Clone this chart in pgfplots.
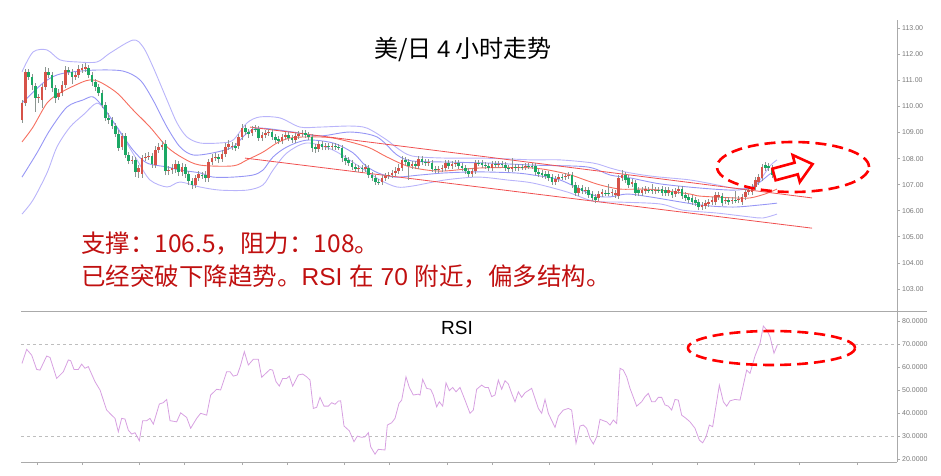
\documentclass[border=0pt]{standalone}
\usepackage{pgfplots}
\pgfplotsset{compat=1.18}
\usepackage{pgfplotstable}
\usepackage{fontspec}
\setmainfont{Liberation Sans}
\newfontfamily\cjk{Noto Sans CJK SC}

\definecolor{axgray}{RGB}{170,170,170}
\definecolor{lblgray}{RGB}{120,120,120}
\definecolor{wickc}{RGB}{140,150,145}
\definecolor{upc}{RGB}{214,82,72}
\definecolor{dnc}{RGB}{26,168,100}
\definecolor{mac}{RGB}{246,110,95}
\definecolor{bbIn}{RGB}{150,150,245}
\definecolor{bbOut}{RGB}{185,180,250}
\definecolor{trend}{RGB}{240,80,80}
\definecolor{rsiC}{RGB}{215,160,225}
\definecolor{ann}{RGB}{192,16,16}
\definecolor{dashg}{RGB}{190,190,190}

\pgfplotstableread{
i o h l c
0 109.48 110.25 109.37 110.13
1 110.13 111.44 110.02 111.33
2 111.33 111.44 111.02 111.13
3 111.13 111.25 110.63 110.83
4 110.79 110.90 109.79 110.33
5 110.33 110.48 110.13 110.37
6 110.25 110.86 109.94 110.75
7 110.75 111.52 110.63 111.33
8 111.33 111.48 111.09 111.21
9 111.21 111.33 110.56 110.71
10 110.71 110.83 110.13 110.33
11 110.37 110.67 110.25 110.52
12 110.52 110.98 110.40 110.83
13 110.83 111.56 110.71 111.40
14 111.40 111.52 111.21 111.33
15 111.33 111.44 110.86 111.13
16 111.13 111.33 111.02 111.21
17 111.21 111.59 111.09 111.44
18 111.40 111.63 111.29 111.48
19 111.44 111.67 111.33 111.52
20 111.48 111.59 111.09 111.21
21 111.21 111.33 110.79 110.94
22 110.94 111.06 110.60 110.75
23 110.75 110.86 110.40 110.52
24 110.52 110.63 109.94 110.06
25 110.06 110.17 109.44 109.56
26 109.56 109.75 109.33 109.48
27 109.48 109.60 109.14 109.25
28 109.25 109.37 108.83 108.94
29 108.94 109.10 108.29 108.41
30 108.45 108.98 108.33 108.87
31 108.87 108.98 108.02 108.14
32 108.14 108.25 107.79 107.91
33 107.91 108.10 107.79 107.95
34 107.95 108.06 107.29 107.49
35 107.49 107.75 107.26 107.64
36 107.41 108.14 107.26 108.02
37 108.02 108.22 107.91 108.06
38 108.06 108.25 107.95 108.10
39 108.10 108.22 107.64 107.79
40 107.75 108.48 107.64 108.33
41 108.33 108.60 108.22 108.45
42 108.45 108.68 108.33 108.52
43 108.56 108.71 107.37 107.52
44 107.52 107.72 107.37 107.56
45 107.56 107.79 107.41 107.64
46 107.60 107.95 107.45 107.79
47 107.79 107.91 107.33 107.49
48 107.49 107.83 107.33 107.68
49 107.68 107.79 107.26 107.41
50 107.41 107.52 106.99 107.14
51 107.14 107.26 106.83 106.99
52 106.99 107.37 106.87 107.26
53 107.26 107.52 107.14 107.41
54 107.37 107.49 107.22 107.33
55 107.37 107.52 107.10 107.26
56 107.26 107.99 107.10 107.87
57 107.87 108.18 107.75 108.02
58 108.02 108.22 107.91 108.06
59 108.06 108.18 107.83 107.99
60 107.99 108.33 107.87 108.18
61 108.18 108.60 108.06 108.45
62 108.45 108.71 108.33 108.56
63 108.45 108.64 108.33 108.48
64 108.48 108.60 108.29 108.41
65 108.48 108.94 108.37 108.83
66 108.83 109.33 108.71 109.17
67 109.17 109.29 108.91 109.02
68 109.02 109.14 108.79 108.94
69 108.98 109.25 108.87 109.14
70 109.14 109.29 109.02 109.13
71 109.14 109.25 108.68 108.79
72 108.79 109.02 108.68 108.91
73 108.91 109.10 108.79 108.98
74 108.98 109.14 108.87 109.02
75 109.02 109.14 108.71 108.83
76 108.83 108.94 108.60 108.71
77 108.75 108.87 108.56 108.68
78 108.68 108.94 108.56 108.83
79 108.83 109.02 108.71 108.91
80 108.91 109.02 108.68 108.79
81 108.79 108.91 108.60 108.71
82 108.71 108.98 108.60 108.87
83 108.87 109.06 108.75 108.94
84 108.94 109.10 108.83 108.98
85 108.98 109.10 108.79 108.91
86 108.91 109.02 108.71 108.83
87 108.83 108.94 108.25 108.41
88 108.45 108.56 108.22 108.37
89 108.37 108.68 108.25 108.56
90 108.56 108.68 108.33 108.45
91 108.45 108.60 108.33 108.48
92 108.48 108.60 108.33 108.45
93 108.45 108.60 108.33 108.48
94 108.48 108.60 108.33 108.45
95 108.45 108.56 108.33 108.44
96 108.41 108.52 107.87 108.02
97 108.02 108.14 107.75 107.91
98 107.95 108.06 107.72 107.83
99 107.83 107.95 107.56 107.68
100 107.68 107.79 107.49 107.60
101 107.60 107.75 107.49 107.64
102 107.64 107.75 107.49 107.60
103 107.60 107.79 107.49 107.68
104 107.64 107.75 107.26 107.37
105 107.37 107.49 107.14 107.26
106 107.26 107.37 106.99 107.10
107 107.10 107.22 106.99 107.09
108 107.10 107.37 106.99 107.26
109 107.26 107.45 107.14 107.33
110 107.33 107.49 107.22 107.37
111 107.37 107.56 107.26 107.45
112 107.45 107.68 107.33 107.52
113 107.52 107.79 107.41 107.64
114 107.64 108.10 107.52 107.95
115 107.95 108.06 107.75 107.87
116 107.87 107.99 107.18 107.72
117 107.72 107.91 107.60 107.79
118 107.79 107.91 107.60 107.72
119 107.72 108.10 107.60 107.99
120 107.99 108.10 107.75 107.87
121 107.87 107.99 107.72 107.83
122 107.83 107.99 107.72 107.87
123 107.83 107.95 107.49 107.60
124 107.60 107.72 107.45 107.56
125 107.56 107.72 107.45 107.60
126 107.60 107.75 107.49 107.64
127 107.64 107.95 107.52 107.83
128 107.83 107.95 107.60 107.72
129 107.72 107.91 107.60 107.79
130 107.79 107.95 107.68 107.83
131 107.83 107.95 107.60 107.72
132 107.72 107.83 107.52 107.64
133 107.64 107.75 107.41 107.52
134 107.52 107.64 107.29 107.41
135 107.41 107.64 107.29 107.52
136 107.52 107.95 107.41 107.83
137 107.83 107.95 107.72 107.82
138 107.83 107.95 107.64 107.75
139 107.75 107.87 107.60 107.72
140 107.72 107.83 107.52 107.64
141 107.64 107.91 107.52 107.79
142 107.79 107.91 107.64 107.75
143 107.75 107.91 107.64 107.79
144 107.79 107.91 107.64 107.75
145 107.75 107.87 107.52 107.64
146 107.64 107.75 107.49 107.60
147 107.60 108.02 107.49 107.68
148 107.68 107.79 107.52 107.64
149 107.64 107.79 107.52 107.68
150 107.68 107.79 107.56 107.67
151 107.68 107.83 107.56 107.72
152 107.72 107.83 107.60 107.71
153 107.72 107.83 107.60 107.71
154 107.72 107.83 107.37 107.49
155 107.49 107.60 107.29 107.41
156 107.45 107.56 107.26 107.37
157 107.41 107.52 107.22 107.33
158 107.41 107.52 107.14 107.26
159 107.29 107.41 106.99 107.10
160 107.10 107.33 106.99 107.22
161 107.22 107.41 107.10 107.29
162 107.29 107.41 107.18 107.28
163 107.29 107.45 107.18 107.33
164 107.33 107.49 107.22 107.37
165 107.37 107.49 106.87 106.99
166 106.99 107.10 106.56 106.68
167 106.68 106.99 106.56 106.87
168 106.87 106.99 106.64 106.76
169 106.76 106.91 106.64 106.79
170 106.79 106.91 106.49 106.60
171 106.64 106.76 106.37 106.49
172 106.53 106.64 106.29 106.41
173 106.49 106.76 106.37 106.64
174 106.64 106.83 106.53 106.72
175 106.68 106.79 106.56 106.67
176 106.68 107.03 106.56 106.67
177 106.68 106.83 106.56 106.72
178 106.60 106.79 106.49 106.68
179 106.56 107.37 106.45 107.26
180 107.26 107.56 107.14 107.37
181 107.37 107.49 107.06 107.18
182 107.26 107.37 106.87 106.99
183 107.03 107.22 106.91 107.10
184 107.06 107.18 106.56 106.68
185 106.79 106.91 106.56 106.68
186 106.68 106.91 106.56 106.79
187 106.76 106.95 106.64 106.83
188 106.79 106.91 106.68 106.78
189 106.79 107.03 106.64 106.76
190 106.76 106.91 106.64 106.79
191 106.79 106.91 106.68 106.78
192 106.83 106.95 106.56 106.68
193 106.79 106.91 106.56 106.68
194 106.68 106.91 106.56 106.79
195 106.72 106.83 106.49 106.60
196 106.64 106.87 106.53 106.76
197 106.76 106.95 106.64 106.83
198 106.83 106.95 106.45 106.56
199 106.60 106.72 106.37 106.49
200 106.53 106.64 106.29 106.41
201 106.49 106.60 106.22 106.33
202 106.41 106.53 106.18 106.29
203 106.33 106.45 106.02 106.14
204 106.14 106.33 106.02 106.22
205 106.18 106.41 106.06 106.29
206 106.26 106.45 106.14 106.33
207 106.33 106.53 106.22 106.41
208 106.33 106.72 106.22 106.60
209 106.53 106.72 106.41 106.60
210 106.56 106.68 106.18 106.29
211 106.37 106.53 106.26 106.41
212 106.41 106.53 106.22 106.33
213 106.37 106.53 106.26 106.41
214 106.41 106.76 106.29 106.40
215 106.41 106.56 106.29 106.45
216 106.33 106.64 106.22 106.53
217 106.53 106.83 106.41 106.72
218 106.72 106.91 106.60 106.79
219 106.72 107.03 106.60 106.91
220 106.91 107.29 106.79 107.18
221 107.10 107.41 106.99 107.29
222 107.26 107.79 107.14 107.68
223 107.75 107.87 107.52 107.64
224 107.72 107.83 107.52 107.64
225 107.64 107.75 107.26 107.37
}\candles

\pgfplotstableread{
i v
0 61.6
1.4 67.7
2.9 65.2
4.4 59.0
5.4 58.7
7.4 64.8
8.4 64.2
10.4 55.1
12.4 58.0
13.9 63.1
14.6 62.8
15.6 59.0
16.9 59.0
17.9 61.3
18.9 59.5
19.9 60.2
21.9 53.7
23.4 50.1
25.4 41.4
26.9 39.2
27.9 37.8
28.9 32.0
29.9 37.8
30.9 37.5
31.9 32.7
32.9 31.0
33.9 31.6
35.2 28.1
36.2 36.8
37.4 36.8
38.4 37.8
39.4 35.3
41.2 44.0
42.4 44.6
43.4 46.0
44.4 36.8
46.4 36.3
47.6 40.2
49.4 38.2
50.6 33.5
52.4 37.8
53.6 40.0
55.4 39.2
56.6 47.9
58.4 50.4
59.6 50.1
61.4 58.0
62.4 58.0
63.4 56.1
64.6 56.6
65.6 60.9
66.7 66.7
67.9 60.9
69.4 63.4
70.9 63.4
71.9 55.6
74.4 59.0
75.2 58.7
76.2 53.7
77.2 51.8
78.2 55.1
79.4 55.1
80.2 56.1
81.2 51.8
82.9 56.6
84.2 57.0
85.4 55.8
86.4 54.4
87.4 42.1
88.4 42.6
89.4 46.9
90.6 43.1
91.9 43.1
92.9 44.6
93.9 43.9
94.9 45.3
95.6 45.4
96.6 34.5
98.2 32.4
99.6 27.7
100.6 30.1
101.9 29.6
102.9 29.8
103.9 31.6
104.6 25.5
105.9 22.3
106.9 24.4
108.9 24.1
109.6 34.9
110.9 35.9
111.9 37.8
113.1 44.3
113.9 45.7
115.2 55.8
116.2 51.2
117.4 47.9
118.9 48.3
119.4 47.9
120.2 54.7
121.4 50.8
122.6 50.4
123.4 47.9
124.4 42.8
125.2 45.0
126.2 43.1
127.2 53.2
128.2 49.8
129.2 51.2
130.2 49.3
131.4 51.2
132.9 45.7
134.4 40.0
135.4 41.4
136.4 50.4
137.9 52.2
138.9 51.2
139.9 51.2
140.9 47.2
141.9 47.9
142.9 54.4
143.9 50.4
144.9 54.1
145.9 52.7
146.9 48.6
147.9 45.0
148.9 49.3
149.9 46.9
150.9 48.9
152.9 50.8
154.9 42.1
155.9 40.0
156.9 46.0
157.9 40.0
159.9 33.9
160.9 38.8
162.4 41.4
163.9 42.1
164.9 41.4
166.2 27.0
167.4 34.5
168.4 34.9
169.4 33.5
170.4 29.1
171.4 26.7
172.4 29.8
173.4 37.4
174.4 36.8
175.4 36.3
176.4 34.9
177.4 37.1
178.4 35.6
179.4 59.5
180.4 58.7
181.4 55.8
182.4 50.8
184.4 43.1
185.9 45.0
186.9 47.2
187.9 48.6
188.9 45.0
189.9 45.0
190.9 46.9
191.9 46.9
192.9 43.6
193.9 43.1
194.9 41.4
195.9 46.0
196.9 45.7
197.9 39.2
199.2 37.8
200.4 36.3
201.9 33.5
203.2 28.4
204.2 27.2
205.2 29.8
206.2 34.9
207.2 34.2
209.2 52.2
210.4 45.0
211.4 43.1
212.4 45.4
213.9 46.0
215.4 45.7
217.4 58.7
218.4 57.3
219.9 64.8
221.4 70.3
222.4 77.8
223.4 76.1
224.4 73.2
225.6 66.0
226.6 69.6
}\rsi

\begin{document}
\begin{tikzpicture}
\useasboundingbox (0,0) rectangle (941pt,475pt);
\clip (0,0) rectangle (941pt,475pt);

% ---------- price panel ----------
\begin{axis}[
  at={(21pt,164pt)}, anchor=south west, scale only axis,
  width=876pt, height=291pt,
  xmin=-0.3, xmax=262.5, ymin=102.15, ymax=113.32,
  axis x line=none, axis y line*=right,
  axis line style={draw=axgray, line width=0.8pt},
  ytick={103,104,...,113},
  tick align=outside, major tick length=3pt,
  tick style={draw=axgray, line width=0.6pt},
  yticklabel style={font=\fontsize{7}{8}\selectfont, text=lblgray, inner sep=2pt},
  yticklabel={\pgfmathprintnumber[fixed,fixed zerofill,precision=2]{\tick}},
  /pgf/number format/assume math mode=true,
  clip=false,
]
% outer Bollinger bands
\addplot[bbOut, line width=0.9pt, smooth] coordinates {
(0,111.33) (3.3,112.09) (7.5,112.17) (11.4,111.79) (16.5,111.71) (22.5,111.71) (26.4,112.05) (33.3,112.55) (36.3,112.29) (39.3,111.52) (43.5,110.25) (46.5,109.37) (49.5,108.83) (53.4,108.60) (59.4,108.60) (63.3,108.71) (67.5,109.37) (71.4,109.60) (77.4,109.56) (83.4,109.21) (89.4,109.21) (98.4,109.25) (103.5,109.17) (109.5,108.71) (112.5,108.41) (117.0,108.10) (126.9,108.02) (136.8,108.02) (145.5,107.99) (153.3,107.95) (161.4,107.95) (171.3,107.83) (176.4,107.64) (180.9,107.49) (186.3,107.37) (191.4,107.29) (200.4,107.18) (208.5,106.99) (213.3,106.87) (218.4,106.87) (221.4,107.18) (224.4,107.72) (226.5,107.95)};
\addplot[bbOut, line width=0.9pt, smooth] coordinates {
(0,105.87) (3.3,106.41) (7.5,107.45) (10.5,108.45) (14.4,109.21) (18.3,109.67) (22.5,110.13) (25.5,109.75) (30.3,108.83) (34.5,107.95) (38.4,107.18) (43.5,106.91) (47.4,107.10) (53.4,106.91) (59.4,106.79) (67.5,106.79) (72.3,106.99) (75.3,107.56) (79.5,108.22) (85.5,108.60) (93.3,108.33) (101.4,107.68) (107.4,107.18) (112.5,106.91) (117.3,106.95) (126.9,107.18) (136.8,107.29) (145.5,107.18) (153.3,107.06) (163.5,106.72) (171.3,106.37) (179.4,106.33) (191.4,106.26) (198.3,106.02) (208.5,105.91) (218.4,105.76) (222.3,105.72) (226.5,105.87)};
% inner Bollinger bands
\addplot[bbIn, line width=0.9pt, smooth] coordinates {
(0,110.13) (6.3,110.90) (10.5,111.21) (15.3,111.33) (22.5,111.40) (30.3,111.36) (35.4,111.02) (39.3,110.25) (43.5,109.21) (47.4,108.45) (51.3,108.14) (57.3,108.22) (63.3,108.45) (67.5,108.98) (71.4,109.17) (81.3,109.02) (89.4,108.87) (98.4,109.02) (106.5,108.83) (112.5,108.14) (117.0,107.91) (126.3,107.87) (139.5,107.83) (153.3,107.75) (169.5,107.68) (176.4,107.37) (182.4,107.26) (191.4,107.03) (203.4,106.87) (213.3,106.79) (218.4,106.87) (221.4,107.10) (224.4,107.41) (226.5,107.52)};
\addplot[bbIn, line width=0.9pt, smooth] coordinates {
(0,107.29) (4.5,108.22) (8.4,109.10) (13.5,109.98) (18.3,110.25) (21.3,110.37) (24.3,109.98) (28.5,109.21) (33.3,108.33) (37.5,107.83) (43.5,107.68) (47.4,107.56) (53.4,107.45) (57.3,107.29) (63.3,107.29) (69.3,107.37) (72.3,107.56) (75.3,108.06) (79.5,108.45) (85.5,108.71) (93.3,108.60) (99.3,108.22) (102.9,107.75) (106.8,107.45) (111.9,107.29) (119.4,107.37) (126.9,107.45) (136.8,107.49) (147.9,107.45) (153.3,107.37) (161.4,107.18) (171.3,106.60) (176.4,106.53) (181.5,106.64) (188.4,106.53) (203.4,106.22) (213.3,106.14) (221.4,106.22) (226.5,106.29)};
% moving average
\addplot[mac, line width=0.9pt, smooth] coordinates {
(0,108.64) (3.3,109.21) (7.5,110.13) (11.4,110.52) (17.4,110.90) (20.4,111.02) (23.4,110.94) (28.5,110.52) (33.3,109.87) (38.4,109.21) (43.5,108.45) (48.3,108.02) (53.4,107.75) (63.3,107.72) (67.5,107.95) (72.3,108.25) (76.5,108.60) (80.4,108.79) (85.5,108.83) (93.3,108.79) (103.5,108.45) (109.5,108.06) (116.4,107.68) (125.4,107.52) (137.4,107.64) (153.3,107.64) (163.5,107.41) (168.9,107.18) (173.4,106.99) (179.4,106.83) (186.3,106.83) (191.4,106.79) (200.4,106.64) (203.4,106.56) (213.9,106.49) (218.4,106.49) (222.9,106.64) (226.5,106.83)};
% trend lines
\addplot[trend, line width=0.8pt] coordinates {(68.4,109.21) (237,106.49)};
\addplot[trend, line width=0.8pt] coordinates {(66.9,108.02) (237,105.33)};
% candles: wicks
\addplot[draw=none, mark=none, forget plot,
  error bars/.cd, y dir=plus, y explicit, error mark=none,
  error bar style={draw=wickc, line width=0.6pt}]
  table[x=i, y=l, y error expr=\thisrow{h}-\thisrow{l}] {\candles};
% up bodies
\addplot[draw=none, mark=none, forget plot,
  restrict expr to domain={\thisrow{c}-\thisrow{o}}{0:10},
  error bars/.cd, y dir=plus, y explicit, error mark=none,
  error bar style={draw=upc, line width=2.7pt}]
  table[x=i, y=o, y error expr=\thisrow{c}-\thisrow{o}] {\candles};
% down bodies
\addplot[draw=none, mark=none, forget plot,
  restrict expr to domain={\thisrow{c}-\thisrow{o}}{-10:-0.001},
  error bars/.cd, y dir=plus, y explicit, error mark=none,
  error bar style={draw=dnc, line width=2.7pt}]
  table[x=i, y=c, y error expr=\thisrow{o}-\thisrow{c}] {\candles};
\end{axis}

% ---------- RSI panel ----------
\begin{axis}[
  at={(21pt,13pt)}, anchor=south west, scale only axis,
  width=876pt, height=151pt,
  xmin=-0.3, xmax=262.5, ymin=18.9, ymax=84.3,
  axis x line*=bottom, axis y line*=right,
  axis line style={draw=axgray, line width=0.8pt},
  xtick={4.5,18,35.25,48.75,66,79.5,96.75,110.25,127.5,141,158.25,171.75,189,202.5,219.75,233.25,250.5},
  xticklabels={},
  ytick={20,30,...,80},
  tick align=outside, major tick length=3pt,
  tick style={draw=axgray, line width=0.6pt},
  yticklabel style={font=\fontsize{7}{8}\selectfont, text=lblgray, inner sep=2pt},
  yticklabel={\pgfmathprintnumber[fixed,fixed zerofill,precision=4]{\tick}},
  /pgf/number format/assume math mode=true,
  clip=false,
]
\addplot[dashg, line width=0.7pt, dash pattern=on 3pt off 3pt] coordinates {(-0.3,70) (262.5,70)};
\addplot[dashg, line width=0.7pt, dash pattern=on 3pt off 3pt] coordinates {(-0.3,30) (262.5,30)};
\addplot[rsiC, line width=0.8pt] table[x=i, y=v] {\rsi};
\end{axis}

% separator line
\draw[axgray, line width=0.8pt] (21pt,164pt) -- (927pt,164pt);

% titles and notes
\node[font=\cjk\fontsize{24}{27}\selectfont] at (463pt,425pt) {美/日 {\normalfont 4} 小时走势};
\node[font=\fontsize{19}{22}\selectfont] at (457pt,147pt) {RSI};
\node[anchor=west, inner sep=0pt, text=ann, font=\cjk\fontsize{24.5}{28}\selectfont] at (81pt,231pt) {支撑：106.5，阻力：108。};
\node[anchor=west, inner sep=0pt, text=ann, font=\fontsize{24.5}{28}\selectfont] at (81pt,199pt) {{\cjk 已经突破下降趋势。}RSI {\cjk 在} 70 {\cjk 附近，偏多结构。}};

% annotations
\draw[red, line width=2.6pt, dash pattern=on 11pt off 6pt] (793pt,308pt) ellipse [x radius=76pt, y radius=25pt];
\draw[red, line width=2.6pt, dash pattern=on 11pt off 6pt] (771.5pt,127pt) ellipse [x radius=83.5pt, y radius=17pt];
\draw[red, line width=2.6pt, fill=white, line join=miter]
  (772.4pt,306.3pt) -- (794.6pt,312.3pt) -- (792.6pt,320.0pt) -- (812.6pt,310.9pt)
  -- (799.8pt,293.0pt) -- (797.8pt,300.7pt) -- (775.6pt,294.7pt) -- cycle;
\end{tikzpicture}
\end{document}
